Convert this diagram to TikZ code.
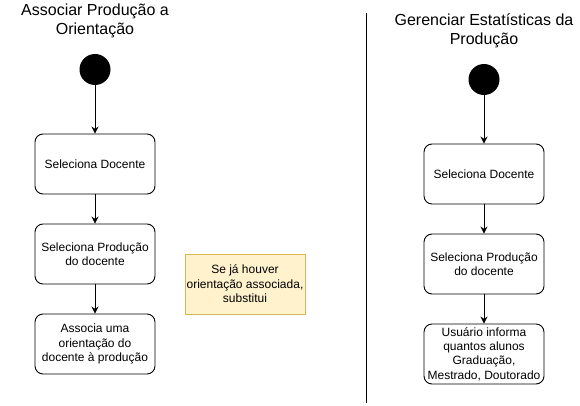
\documentclass[tikz,border=0pt]{standalone}
\usepackage{fontspec}
\setmainfont{Liberation Sans}
\usetikzlibrary{arrows.meta}
\definecolor{notafundo}{HTML}{FFF2CC}
\definecolor{notaborda}{HTML}{D6B656}
\tikzset{
	titulo/.style={align=center, inner sep=0pt, font=\fontsize{16}{19.2}\selectfont},
	inicio/.style={circle, fill=black, minimum size=31pt, inner sep=0pt},
	acao/.style={draw, rounded corners=8pt, minimum width=120pt, minimum height=60pt, inner sep=1pt, align=center, font=\fontsize{12}{14.4}\selectfont},
	nota/.style={draw=notaborda, fill=notafundo, minimum width=120pt, minimum height=60pt, inner sep=1pt, align=center, font=\fontsize{12}{14.4}\selectfont},
	fluxo/.style={-{Stealth[length=7pt,width=7pt]}}
}
\begin{document}
\begin{tikzpicture}[x=1pt, y=-1pt, line width=0.9pt]
		\useasboundingbox (0,0) rectangle (580,406);

		% associar producao a orientacao
		\node[titulo] (t1) at (95,21) {Associar Produção a\\Orientação};
		\node[inicio] (i1) at (95,69.5) {};
		\node[acao] (a1) at (95,164) {Seleciona Docente};
		\node[acao] (a2) at (95,254) {Seleciona Produção\\do docente};
		\node[acao] (a3) at (95,344) {Associa uma\\orientação do\\docente à produção};
		\node[nota] (n1) at (245,284) {Se já houver\\orientação associada,\\substitui};

		\draw[fluxo] (i1) -- (a1);
		\draw[fluxo] (a1) -- (a2);
		\draw[fluxo] (a2) -- (a3);

		% separador
		\coordinate (s1) at (366,13);
		\coordinate (s2) at (366,403);
		\draw (s1) -- (s2);

		% gerenciar estatisticas
		\node[titulo] (t2) at (484,31) {Gerenciar Estatísticas da\\Produção};
		\node[inicio] (i2) at (484,79.5) {};
		\node[acao] (b1) at (484,174) {Seleciona Docente};
		\node[acao] (b2) at (484,264) {Seleciona Produção\\do docente};
		\node[acao] (b3) at (484,354) {Usuário informa\\quantos alunos\\Graduação,\\Mestrado, Doutorado};

		\draw[fluxo] (i2) -- (b1);
		\draw[fluxo] (b1) -- (b2);
		\draw[fluxo] (b2) -- (b3);
	\end{tikzpicture}
\end{document}
